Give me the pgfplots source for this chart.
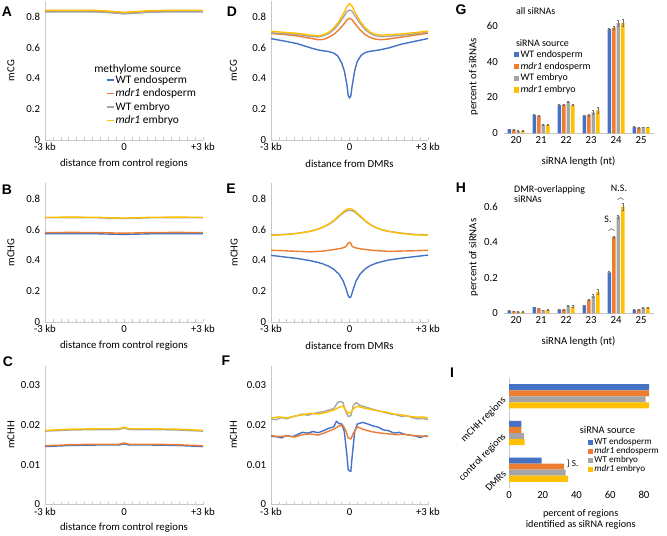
\documentclass[border=0pt]{standalone}
\usepackage{fontspec}
\setmainfont{Carlito}
\newfontfamily\letterfont{Liberation Sans}
\usepackage{pgfplots}
\pgfplotsset{compat=1.18}
\usetikzlibrary{decorations.pathreplacing}

\definecolor{cblue}{HTML}{4472C4}
\definecolor{corange}{HTML}{ED7D31}
\definecolor{cgray}{HTML}{A5A5A5}
\definecolor{cyellow}{HTML}{FFC000}
\definecolor{axgray}{HTML}{C8C8C8}

\newcommand\tf{\fontsize{10.8}{12}\selectfont}
\newcommand\lf{\fontsize{11.5}{13}\selectfont}
\newcommand\gf{\fontsize{10}{11}\selectfont}
\newcommand\jf{\fontsize{9.2}{10}\selectfont}

\pgfplotsset{
  panel/.style={scale only axis, clip=false, axis x line=bottom, axis y line=left,
    axis line style={draw=axgray, line width=0.7pt, -},
    tick label style={font=\tf},
    label style={font=\tf},
    xtick align=inside, ytick style={draw=none}},
  meth/.style={panel, width=158bp, height=138.8bp, xmin=-3, xmax=3, ymin=0,
    xtick={-3,0,3}, xticklabels={-3 kb,0,+3 kb},
    minor xtick={-2.7,-2.4,-2.1,-1.8,-1.5,-1.2,-0.9,-0.6,-0.3,0.3,0.6,0.9,1.2,1.5,1.8,2.1,2.4,2.7},
    major tick length=3bp, minor tick length=3bp,
    xtick style={draw=axgray, line width=0.6pt},
    every axis plot/.append style={line width=1.4pt, no markers, line join=round},
    xlabel style={at={(axis description cs:0.5,-0.17)}, anchor=center},
    ylabel style={at={(axis description cs:-0.215,0.5)}, anchor=center}},
  cg/.style={ymax=0.9, ytick={0,0.2,0.4,0.6,0.8}, yticklabels={0,0.2,0.4,0.6,0.8}},
  chh/.style={ymax=0.035, ytick={0,0.01,0.02,0.03}, yticklabels={0,0.01,0.02,0.03}, scaled y ticks=false},
  barax/.style={panel, width=150bp, xmin=19.5, xmax=25.5, ymin=0,
    xtick={20,21,22,23,24,25}, xticklabels={20,21,22,23,24,25}, xtick style={draw=none},
    y axis line style={draw=none},
    every axis plot/.append style={ybar, bar shift=0pt, bar width=0.14, draw=none,
      error bars/y dir=both, error bars/y explicit,
      error bars/error bar style={draw=black!55, line width=0.4pt},
      error bars/error mark options={rotate=90, mark size=1.2bp, draw=black!55}}},
  sq/.style={legend image code/.code={\fill[##1] (0bp,-2.6bp) rectangle (5.2bp,2.6bp);}},
  leg/.style={legend cell align=left, legend style={draw=none, fill=none, inner sep=0pt,
    row sep=0pt, nodes={inner sep=1.2pt}}},
}

\begin{document}
\begin{tikzpicture}
\useasboundingbox (0,0) rectangle (667bp,-536bp);

% ---------- A ----------
\begin{axis}[meth, cg, at={(45bp,-140bp)}, anchor=south west,
  xlabel={distance from control regions}, ylabel={mCG}, leg,
  legend style={at={(axis description cs:0.385,0.475)}, anchor=north west, row sep=1.6pt, font=\lf},
  legend image code/.code={\draw[#1, line width=1.4pt] (0bp,0bp) -- (7bp,0bp);}]
\addplot[cblue] coordinates {(-3,0.833)(-2,0.834)(-1,0.833)(-0.5,0.828)(0,0.821)(0.5,0.826)(1,0.832)(2,0.834)(3,0.834)};
\addlegendentry{WT endosperm}
\addplot[corange] coordinates {(-3,0.836)(-2,0.837)(-1,0.836)(-0.5,0.831)(0,0.824)(0.5,0.829)(1,0.835)(2,0.837)(3,0.837)};
\addlegendentry{\textit{mdr1} endosperm}
\addplot[cgray] coordinates {(-3,0.830)(-2,0.831)(-1,0.830)(-0.5,0.825)(0,0.818)(0.5,0.823)(1,0.829)(2,0.831)(3,0.831)};
\addlegendentry{WT embryo}
\addplot[cyellow] coordinates {(-3,0.840)(-2,0.841)(-1,0.840)(-0.5,0.835)(0,0.828)(0.5,0.833)(1,0.839)(2,0.841)(3,0.841)};
\addlegendentry{\textit{mdr1} embryo}
\node[anchor=west, font=\lf] at (axis description cs:0.29,0.505) {methylome source};
\end{axis}

% ---------- B ----------
\begin{axis}[meth, cg, at={(45bp,-322bp)}, anchor=south west,
  xlabel={distance from control regions}, ylabel={mCHG}]
\addplot[cblue] coordinates {(-3,0.572)(-2,0.573)(-1,0.572)(-0.3,0.569)(0,0.568)(0.3,0.569)(1,0.572)(2,0.573)(3,0.572)};
\addplot[corange] coordinates {(-3,0.580)(-2,0.581)(-1,0.580)(-0.3,0.577)(0,0.576)(0.3,0.577)(1,0.580)(2,0.581)(3,0.580)};
\addplot[cgray] coordinates {(-3,0.676)(-2,0.677)(-1,0.676)(-0.3,0.672)(0,0.671)(0.3,0.672)(1,0.676)(2,0.677)(3,0.676)};
\addplot[cyellow] coordinates {(-3,0.679)(-2,0.680)(-1,0.679)(-0.3,0.675)(0,0.674)(0.3,0.675)(1,0.679)(2,0.680)(3,0.679)};
\end{axis}

% ---------- C ----------
\begin{axis}[meth, chh, at={(45bp,-504.5bp)}, anchor=south west,
  xlabel={distance from control regions}, ylabel={mCHH}]
\addplot[cblue] coordinates {(-3,0.0146)(-2,0.0149)(-1,0.0150)(-0.2,0.0150)(0,0.0153)(0.2,0.0150)(1,0.0150)(2,0.0149)(3,0.0146)};
\addplot[corange] coordinates {(-3,0.0148)(-2,0.0151)(-1,0.0152)(-0.2,0.0152)(0,0.0155)(0.2,0.0152)(1,0.0152)(2,0.0151)(3,0.0148)};
\addplot[cgray] coordinates {(-3,0.0185)(-2,0.0188)(-1,0.0189)(-0.2,0.0189)(0,0.0193)(0.2,0.0189)(1,0.0189)(2,0.0188)(3,0.0185)};
\addplot[cyellow] coordinates {(-3,0.0187)(-2,0.0190)(-1,0.0191)(-0.2,0.0191)(0,0.0195)(0.2,0.0191)(1,0.0191)(2,0.0190)(3,0.0187)};
\end{axis}

% ---------- D ----------
\begin{axis}[meth, cg, width=157bp, at={(271bp,-140bp)}, anchor=south west,
  xlabel={distance from DMRs}, ylabel={mCG},
  ylabel style={at={(axis description cs:-0.24,0.5)}}]
\addplot[cblue] coordinates {(-3,0.657)(-2.5,0.642)(-2,0.625)(-1.5,0.598)(-1.2,0.584)(-1,0.578)(-0.8,0.574)(-0.6,0.563)(-0.45,0.545)(-0.3,0.50)(-0.2,0.45)(-0.1,0.36)(-0.05,0.29)(0,0.272)(0.05,0.285)(0.1,0.35)(0.2,0.45)(0.3,0.51)(0.45,0.55)(0.6,0.567)(0.8,0.576)(1,0.580)(1.2,0.586)(1.5,0.597)(2,0.622)(2.5,0.640)(3,0.658)};
\addplot[corange] coordinates {(-3,0.690)(-2.5,0.684)(-2,0.675)(-1.5,0.660)(-1.2,0.650)(-1,0.652)(-0.8,0.665)(-0.6,0.685)(-0.4,0.715)(-0.2,0.755)(-0.1,0.778)(0,0.790)(0.1,0.780)(0.2,0.757)(0.4,0.715)(0.6,0.683)(0.8,0.664)(1,0.654)(1.2,0.650)(1.5,0.655)(2,0.668)(2.5,0.680)(3,0.692)};
\addplot[cgray] coordinates {(-3,0.695)(-2.5,0.690)(-2,0.684)(-1.5,0.672)(-1.2,0.668)(-1,0.675)(-0.8,0.690)(-0.6,0.715)(-0.4,0.755)(-0.2,0.805)(-0.1,0.832)(0,0.843)(0.1,0.835)(0.2,0.808)(0.4,0.757)(0.6,0.715)(0.8,0.690)(1,0.676)(1.2,0.670)(1.5,0.672)(2,0.680)(2.5,0.688)(3,0.700)};
\addplot[cyellow] coordinates {(-3,0.705)(-2.5,0.698)(-2,0.692)(-1.5,0.680)(-1.2,0.675)(-1,0.682)(-0.8,0.698)(-0.6,0.727)(-0.4,0.770)(-0.2,0.830)(-0.1,0.865)(0,0.885)(0.1,0.868)(0.2,0.832)(0.4,0.772)(0.6,0.728)(0.8,0.698)(1,0.684)(1.2,0.680)(1.5,0.682)(2,0.688)(2.5,0.696)(3,0.706)};
\end{axis}

% ---------- E ----------
\begin{axis}[meth, cg, width=157bp, at={(271bp,-322bp)}, anchor=south west,
  xlabel={distance from DMRs}, ylabel={mCHG},
  ylabel style={at={(axis description cs:-0.235,0.5)}}]
\addplot[cblue] coordinates {(-3,0.432)(-2.5,0.422)(-2,0.412)(-1.5,0.398)(-1.2,0.386)(-1,0.376)(-0.8,0.362)(-0.6,0.342)(-0.4,0.310)(-0.25,0.270)(-0.15,0.225)(-0.05,0.170)(0,0.158)(0.05,0.162)(0.15,0.215)(0.25,0.265)(0.4,0.310)(0.6,0.345)(0.8,0.366)(1,0.380)(1.2,0.390)(1.5,0.402)(2,0.414)(2.5,0.424)(3,0.434)};
\addplot[corange] coordinates {(-3,0.465)(-2.5,0.462)(-2,0.458)(-1.5,0.455)(-1,0.460)(-0.6,0.470)(-0.3,0.478)(-0.15,0.488)(-0.05,0.510)(0,0.518)(0.05,0.510)(0.1,0.490)(0.2,0.482)(0.4,0.475)(0.7,0.468)(1,0.463)(1.5,0.458)(2,0.460)(2.5,0.462)(3,0.465)};
\addplot[cgray] coordinates {(-3,0.565)(-2.5,0.568)(-2,0.575)(-1.5,0.588)(-1.2,0.602)(-1,0.615)(-0.8,0.632)(-0.6,0.655)(-0.4,0.685)(-0.2,0.712)(-0.1,0.722)(0,0.724)(0.1,0.722)(0.2,0.713)(0.4,0.685)(0.6,0.655)(0.8,0.630)(1,0.612)(1.2,0.600)(1.5,0.588)(2,0.576)(2.5,0.568)(3,0.565)};
\addplot[cyellow] coordinates {(-3,0.562)(-2.5,0.566)(-2,0.574)(-1.5,0.588)(-1.2,0.603)(-1,0.617)(-0.8,0.635)(-0.6,0.659)(-0.4,0.690)(-0.2,0.720)(-0.1,0.731)(0,0.735)(0.1,0.731)(0.2,0.720)(0.4,0.690)(0.6,0.658)(0.8,0.632)(1,0.613)(1.2,0.600)(1.5,0.587)(2,0.574)(2.5,0.565)(3,0.563)};
\end{axis}

% ---------- F ----------
\begin{axis}[meth, chh, width=157bp, at={(271bp,-504.5bp)}, anchor=south west,
  ylabel={mCHH}, ylabel style={at={(axis description cs:-0.24,0.5)}}]
\addplot[cblue] coordinates {(-3,0.0172)(-2.8,0.0171)(-2.6,0.0168)(-2.4,0.0174)(-2.2,0.0171)(-2,0.0176)(-1.8,0.0182)(-1.6,0.0180)(-1.4,0.0184)(-1.2,0.0181)(-1,0.0186)(-0.8,0.0192)(-0.6,0.0196)(-0.5,0.0210)(-0.4,0.0204)(-0.3,0.0203)(-0.2,0.0185)(-0.1,0.0125)(-0.05,0.0088)(0,0.0085)(0.05,0.0083)(0.1,0.0120)(0.2,0.0185)(0.3,0.0203)(0.5,0.0207)(0.7,0.0203)(0.9,0.0198)(1.1,0.0195)(1.3,0.0188)(1.5,0.0186)(1.7,0.0180)(1.9,0.0182)(2.1,0.0177)(2.3,0.0175)(2.5,0.0173)(2.7,0.0169)(2.9,0.0173)(3,0.0172)};
\addplot[corange] coordinates {(-3,0.0174)(-2.7,0.0171)(-2.4,0.0173)(-2.1,0.0170)(-1.8,0.0176)(-1.5,0.0178)(-1.2,0.0175)(-0.9,0.0182)(-0.6,0.0190)(-0.4,0.0198)(-0.25,0.0200)(-0.15,0.0188)(-0.05,0.0168)(0.05,0.0165)(0.15,0.0180)(0.3,0.0196)(0.5,0.0190)(0.7,0.0186)(0.9,0.0183)(1.2,0.0180)(1.5,0.0178)(1.8,0.0176)(2.1,0.0177)(2.4,0.0174)(2.7,0.0173)(3,0.0171)};
\addplot[cgray] coordinates {(-3,0.0216)(-2.8,0.0214)(-2.6,0.0219)(-2.4,0.0216)(-2.2,0.0221)(-2,0.0224)(-1.8,0.0228)(-1.6,0.0225)(-1.4,0.0229)(-1.2,0.0232)(-1,0.0234)(-0.8,0.0238)(-0.6,0.0242)(-0.45,0.0257)(-0.35,0.0260)(-0.25,0.0257)(-0.15,0.0235)(-0.05,0.0222)(0.05,0.0224)(0.15,0.0250)(0.25,0.0257)(0.4,0.0250)(0.6,0.0246)(0.8,0.0242)(1,0.0238)(1.2,0.0235)(1.4,0.0231)(1.6,0.0228)(1.8,0.0226)(2,0.0222)(2.2,0.0224)(2.4,0.0219)(2.6,0.0216)(2.8,0.0217)(3,0.0214)};
\addplot[cyellow] coordinates {(-3,0.0218)(-2.7,0.0221)(-2.4,0.0218)(-2.1,0.0223)(-1.8,0.0226)(-1.5,0.0230)(-1.2,0.0228)(-0.9,0.0232)(-0.6,0.0238)(-0.4,0.0245)(-0.25,0.0248)(-0.15,0.0238)(-0.05,0.0230)(0.05,0.0232)(0.15,0.0242)(0.3,0.0248)(0.5,0.0244)(0.8,0.0240)(1.1,0.0236)(1.4,0.0233)(1.7,0.0228)(2,0.0226)(2.3,0.0222)(2.6,0.0220)(2.8,0.0221)(3,0.0218)};
\end{axis}

% ---------- G ----------
\begin{axis}[barax, at={(503.5bp,-133.3bp)}, anchor=south west, height=125.5bp,
  ymax=70, ytick={0,20,40,60}, yticklabels={0,20,40,60},
  xlabel={siRNA length (nt)}, ylabel={percent of siRNAs},
  xlabel style={at={(axis description cs:0.5,-0.226)}, anchor=center},
  ylabel style={at={(axis description cs:-0.2,0.45)}, anchor=center},
  leg, legend style={at={(axis description cs:0.07,0.67)}, anchor=north west, row sep=0.9pt, font=\gf}]
\addplot[fill=cblue, sq] coordinates {(19.73,2.3)+-(0,0.2) (20.73,10.3)+-(0,0.3) (21.73,15.7)+-(0,0.3) (22.73,10.0)+-(0,0.3) (23.73,58.2)+-(0,0.6) (24.73,3.5)+-(0,0.2)};
\addlegendentry{WT endosperm}
\addplot[fill=corange, sq] coordinates {(19.91,2.0)+-(0,0.2) (20.91,9.8)+-(0,0.3) (21.91,16.0)+-(0,0.3) (22.91,10.2)+-(0,0.4) (23.91,58.9)+-(0,0.8) (24.91,3.2)+-(0,0.2)};
\addlegendentry{\textit{mdr1} endosperm}
\addplot[fill=cgray, sq] coordinates {(20.09,1.4)+-(0,0.2) (21.09,4.8)+-(0,0.4) (22.09,17.5)+-(0,0.4) (23.09,11.7)+-(0,1.2) (24.09,61.5)+-(0,1.5) (25.09,3.4)+-(0,0.2)};
\addlegendentry{WT embryo}
\addplot[fill=cyellow, sq] coordinates {(20.27,1.4)+-(0,0.2) (21.27,4.8)+-(0,0.5) (22.27,15.9)+-(0,0.3) (23.27,12.8)+-(0,1.6) (24.27,61.5)+-(0,2.0) (25.27,3.4)+-(0,0.2)};
\addlegendentry{\textit{mdr1} embryo}
\node[anchor=west, font=\gf] at (axis description cs:0.06,0.72) {siRNA source};
\node[anchor=west, font=\gf] at (axis description cs:0.06,0.975) {all siRNAs};
\end{axis}

% ---------- H ----------
\begin{axis}[barax, at={(503.5bp,-313.3bp)}, anchor=south west, height=124.4bp,
  ymax=0.7, ytick={0,0.2,0.4,0.6}, yticklabels={0,0.2,0.4,0.6},
  xlabel={siRNA length (nt)}, ylabel={percent of siRNAs},
  xlabel style={at={(axis description cs:0.5,-0.228)}, anchor=center},
  ylabel style={at={(axis description cs:-0.2,0.45)}, anchor=center}]
\addplot[fill=cblue] coordinates {(19.73,0.015)+-(0,0.002) (20.73,0.035)+-(0,0.002) (21.73,0.022)+-(0,0.002) (22.73,0.045)+-(0,0.002) (23.73,0.23)+-(0,0.005) (24.73,0.020)+-(0,0.002)};
\addplot[fill=corange] coordinates {(19.91,0.012)+-(0,0.002) (20.91,0.028)+-(0,0.002) (21.91,0.022)+-(0,0.002) (22.91,0.075)+-(0,0.003) (23.91,0.43)+-(0,0.006) (24.91,0.022)+-(0,0.002)};
\addplot[fill=cgray] coordinates {(20.09,0.008)+-(0,0.002) (21.09,0.018)+-(0,0.002) (22.09,0.042)+-(0,0.004) (23.09,0.098)+-(0,0.010) (24.09,0.545)+-(0,0.008) (25.09,0.030)+-(0,0.003)};
\addplot[fill=cyellow] coordinates {(20.27,0.008)+-(0,0.002) (21.27,0.018)+-(0,0.003) (22.27,0.038)+-(0,0.006) (23.27,0.120)+-(0,0.015) (24.27,0.600)+-(0,0.020) (25.27,0.033)+-(0,0.003)};
\node[anchor=north west, align=left, font=\gf, inner sep=0pt] at (axis description cs:0.07,1.03) {DMR-overlapping\\[-0.5pt]siRNAs};
\draw[black!70, line width=0.5pt, decorate, decoration={brace, amplitude=2bp}] (axis cs:23.70,0.465) -- (axis cs:23.94,0.465);
\node[font=\gf, anchor=south] at (axis cs:23.68,0.49) {S.};
\draw[black!70, line width=0.5pt, decorate, decoration={brace, amplitude=2bp}] (axis cs:24.06,0.64) -- (axis cs:24.30,0.64);
\node[font=\gf, anchor=south] at (axis cs:24.12,0.665) {N.S.};
\end{axis}

% ---------- I ----------
\begin{axis}[panel, at={(509bp,-488bp)}, anchor=south west, width=143.4bp, height=110bp,
  xmin=0, xmax=85, ymin=-0.5, ymax=2.5,
  x axis line style={draw=none}, xtick={0,20,40,60,80}, xticklabels={0,20,40,60,80}, xtick style={draw=none},
  ytick={0,1,2}, yticklabels={DMRs,control regions,mCHH regions},
  yticklabel style={rotate=45, anchor=east, font=\fontsize{10.2}{11}\selectfont},
  xlabel={percent of regions\\identified as siRNA regions},
  xlabel style={at={(axis description cs:0.5,-0.285)}, anchor=center, align=center, font=\fontsize{10.2}{11}\selectfont},
  every axis plot/.append style={xbar, bar shift=0pt, bar width=0.165, draw=none},
  leg, legend style={at={(axis description cs:0.55,0.465)}, anchor=north west, row sep=-1.2pt, font=\jf}]
\addplot[fill=cblue, sq] coordinates {(83.1,2.2475)(7.4,1.2475)(19.4,0.2475)};
\addlegendentry{WT endosperm}
\addplot[fill=corange, sq] coordinates {(83.1,2.0825)(7.4,1.0825)(32.7,0.0825)};
\addlegendentry{\textit{mdr1} endosperm}
\addplot[fill=cgray, sq] coordinates {(81.0,1.9175)(8.8,0.9175)(33.6,-0.0825)};
\addlegendentry{WT embryo}
\addplot[fill=cyellow, sq] coordinates {(83.1,1.7525)(9.2,0.7525)(35.0,-0.2475)};
\addlegendentry{\textit{mdr1} embryo}
\node[anchor=west, font=\fontsize{10.4}{11}\selectfont] at (axis description cs:0.47,0.53) {siRNA source};
\node[anchor=west, font=\jf, inner sep=1pt] at (axis cs:33.6,0.165) {\} S.};
\end{axis}

% panel letters
\begin{scope}[font=\letterfont\bfseries\fontsize{14}{14}\selectfont]
\node at (7bp,-12bp) {A};
\node at (7bp,-190bp) {B};
\node at (8bp,-362bp) {C};
\node at (232bp,-12bp) {D};
\node at (231bp,-189bp) {E};
\node at (226bp,-361bp) {F};
\node at (461bp,-10bp) {G};
\node at (461bp,-188bp) {H};
\node at (452bp,-373bp) {I};
\end{scope}
\end{tikzpicture}
\end{document}
